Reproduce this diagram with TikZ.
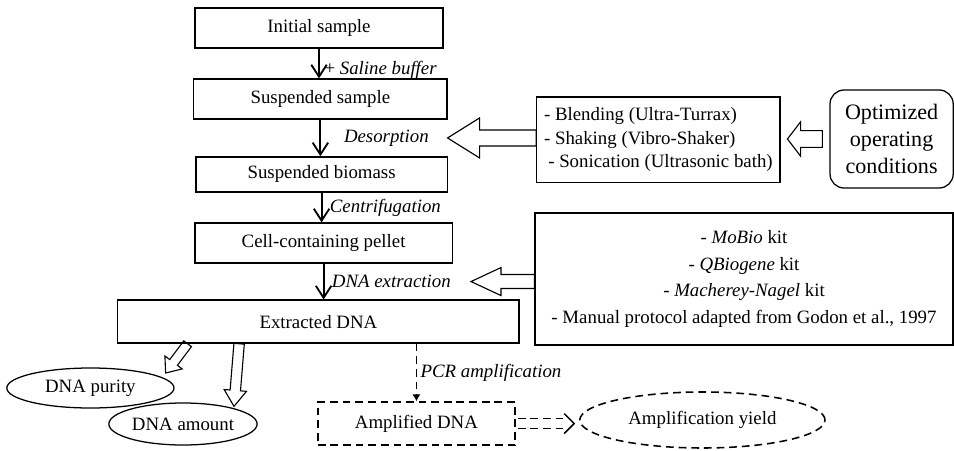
\documentclass[tikz,border=0pt]{standalone}
\usepackage{fontspec}
\setmainfont{Liberation Serif}
\usetikzlibrary{calc, positioning, shapes.geometric, arrows.meta}

% hollow block arrow: [style]{tail}{tip}{half shaft}{half head}{head length}
\newcommand{\hollowarrow}[6][]{%
  \coordinate (ha-base) at ($(#3)!#6!(#2)$);
  \draw[hollow, #1] ($(#2)!#4!90:(#3)$) -- ($(ha-base)!#4!90:(#3)$)
    -- ($(ha-base)!#5!90:(#3)$) -- (#3)
    -- ($(ha-base)!#5!-90:(#3)$) -- ($(ha-base)!#4!-90:(#3)$)
    -- ($(#2)!#4!-90:(#3)$) -- cycle;
}

\tikzset{
  stage/.style={draw, line width=0.9pt, inner sep=2pt, font=\fontsize{13.4}{16.7}\selectfont},
  measure/.style={ellipse, draw, line width=0.9pt, inner sep=1pt, font=\fontsize{13.4}{16.7}\selectfont},
  dashline/.style={line width=1.1pt, dash pattern=on 5.5pt off 3.5pt},
  flow/.style={line width=1.3pt, -{Straight Barb[length=8.5pt,width=11pt,line width=1.3pt]}},
  lbl/.style={font=\fontsize{13.4}{16.7}\selectfont\itshape},
  hollow/.style={line width=0.8pt, line join=miter},
}

\begin{document}
\begin{tikzpicture}
  \useasboundingbox (0,0) rectangle (23.85,11.25);

  % main chain
  \node[stage, minimum width=6.2cm, minimum height=1.0cm] (init) at (7.975,10.55) {Initial sample};
  \node[stage, minimum width=6.33cm, minimum height=1.0cm] (susp) at (8.01,8.775) {Suspended sample};
  \node[stage, minimum width=6.28cm, minimum height=0.875cm] (biomass) at (8.04,6.89) {Suspended biomass};
  \node[stage, minimum width=6.43cm, minimum height=1.0cm] (pellet) at (8.09,5.175) {Cell-containing pellet};
  \node[stage, minimum width=10.03cm, minimum height=1.075cm] (ext) at (7.96,3.21) {Extracted DNA};

  \draw[flow] (init.south) -- (init.south |- susp.north)
    node[pos=0.7, right, lbl, inner sep=1pt, xshift=0.08cm] (saline) {\upshape+ \itshape Saline buffer};
  \draw[flow] (susp.south) -- (susp.south |- biomass.north)
    node[midway, right, lbl, xshift=0.45cm] (desorb) {Desorption};
  \draw[flow] (biomass.south) -- (biomass.south |- pellet.north)
    node[midway, right, lbl, inner sep=1pt, xshift=0.15cm] (centri) {Centrifugation};
  \draw[flow] (pellet.south) -- (pellet.south |- ext.north)
    node[midway, right, lbl, inner sep=1pt, xshift=0.15cm] (extract) {DNA extraction};

  % desorption methods
  \node[stage, align=left, minimum width=6.08cm, minimum height=2.13cm] (methods) at (16.46,7.76)
    {- Blending (Ultra-Turrax)\\- Shaking (Vibro-Shaker)\\\hspace{3pt}- Sonication (Ultrasonic bath)};
  \node[stage, rounded corners=10pt, align=center, minimum width=3.08cm, minimum height=2.45cm,
        font=\fontsize{15.7}{19.5}\selectfont] (opt) at (22.29,7.775)
    {Optimized\\operating\\conditions};

  \coordinate (desorb tip) at ($(desorb.east)+(0.33,0)$);
  \hollowarrow{methods.west |- desorb tip}{desorb tip}{0.2cm}{0.5cm}{0.8cm}
  \coordinate (opt tail) at ($(opt.west)+(-0.175,0)$);
  \coordinate (opt tip) at ($(methods.east |- opt.west)+(0.17,0)$);
  \hollowarrow{opt tail}{opt tip}{0.21cm}{0.43cm}{0.33cm}

  % extraction kits
  \node[stage, align=center, minimum width=10.45cm, minimum height=3.3cm,
        font=\fontsize{13.4}{19}\selectfont] (kits) at (18.6,4.275)
    {- \textit{MoBio} kit\\- \textit{QBiogene} kit\\- \textit{Macherey-Nagel} kit\\- Manual protocol adapted from Godon et al., 1997};
  \coordinate (extract tip) at ($(extract.east)+(0.45,0)$);
  \hollowarrow{kits.west |- extract tip}{extract tip}{0.175cm}{0.35cm}{0.75cm}

  % analyses
  \node[measure, minimum width=4.18cm, minimum height=1.0cm] (purity) at (2.26,1.55) {DNA purity};
  \node[measure, minimum width=3.25cm, minimum height=1.05cm] (amount) at (4.575,0.65) {DNA amount};
  \node[stage, dashline, minimum width=4.93cm, minimum height=1.075cm] (amp) at (10.41,0.66) {Amplified DNA};
  \node[measure, dashline, minimum width=6.13cm, minimum height=1.4cm] (yield) at (17.56,0.75) {Amplification yield};

  \coordinate (pur tail) at ($(ext.south west)!0.175!(ext.south east)$);
  \coordinate (pur tip) at ($(purity.east)+(-0.225,0.375)$);
  \hollowarrow{pur tail}{pur tip}{0.12cm}{0.27cm}{0.33cm}
  \coordinate (amt tail) at ($(ext.south west)!0.303!(ext.south east)$);
  \coordinate (amt tip) at ($(amount.north)+(1.275,-0.1)$);
  \hollowarrow{amt tail}{amt tip}{0.13cm}{0.28cm}{0.4cm}

  \draw[dashline, -{Latex[length=5pt,width=6pt]}] (amp.north |- ext.south) -- (amp.north)
    node[midway, right, lbl, inner sep=1pt, xshift=0.05cm] (pcr) {PCR amplification};

  % dashed double arrow to yield
  \coordinate (yield tip) at ($(yield.west |- amp.east)+(-0.12,0)$);
  \draw[dashline] ($(amp.east)+(0.05,0.125)$) -- ($(yield tip)+(-0.28,0.125)$);
  \draw[dashline] ($(amp.east)+(0.05,-0.125)$) -- ($(yield tip)+(-0.28,-0.125)$);
  \draw[line width=1.1pt] ($(yield tip)+(-0.25,0.25)$) -- (yield tip) -- ++(-0.25,-0.25);
\end{tikzpicture}
\end{document}
